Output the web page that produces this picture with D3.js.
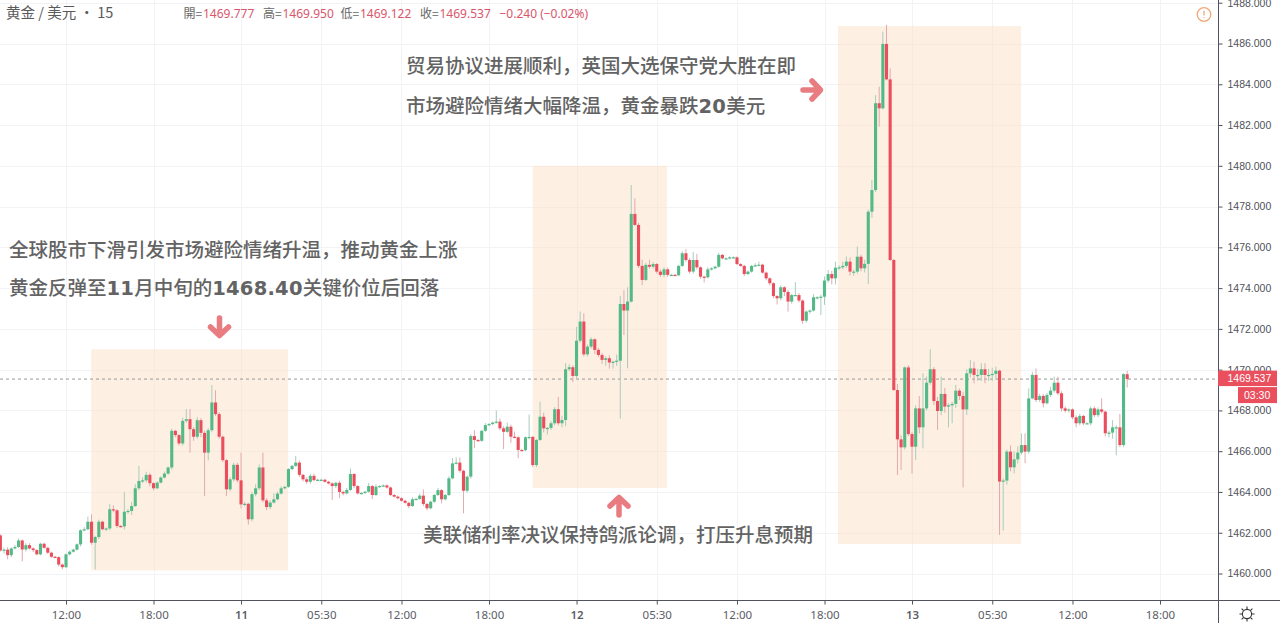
<!DOCTYPE html>
<html lang="zh">
<head>
<meta charset="utf-8">
<title>黄金 / 美元 15</title>
<script src="https://cdn.jsdelivr.net/npm/d3@7"></script>
<style>
html,body{margin:0;padding:0;background:#fff;overflow:hidden}
svg{display:block}
text{font-family:"Noto Sans CJK SC","Noto Sans",sans-serif}
</style>
</head>
<body>
<svg id="chart" width="1280" height="623"></svg>
<script>
// first bar index of the series (0 = the first 12:00 tick)
const firstBar = -18;

const opens = [
1461.87,1461.13,1461.17,1460.90,1461.23,1461.30,1461.62,1461.18,1461.39,1461.23,
1461.15,1460.94,1461.46,1461.26,1461.02,1460.82,1460.80,1460.44,1460.31,1460.94,
1461.07,1461.17,1461.43,1462.12,1462.17,1462.54,1461.51,1461.79,1462.54,1462.17,
1462.21,1463.15,1463.10,1462.33,1462.31,1463.03,1463.07,1463.31,1464.18,1464.54,
1464.57,1464.84,1464.43,1464.18,1464.46,1464.71,1464.90,1465.20,1467.00,1466.79,
1466.38,1467.49,1467.57,1467.08,1466.71,1467.52,1466.90,1465.93,1467.03,1468.39,
1467.82,1466.71,1465.56,1464.13,1464.62,1465.33,1464.57,1463.39,1463.42,1462.66,
1463.89,1464.18,1465.20,1463.59,1463.26,1463.48,1463.64,1463.92,1464.18,1464.25,
1465.12,1465.28,1465.44,1464.84,1464.62,1464.50,1464.79,1464.58,1464.60,1464.60,
1464.50,1464.42,1464.29,1464.45,1464.00,1463.93,1464.10,1464.88,1464.29,1463.93,
1463.95,1464.01,1464.29,1463.85,1464.26,1464.29,1464.32,1464.22,1463.85,1463.77,
1463.69,1463.57,1463.47,1463.31,1463.64,1463.66,1463.82,1463.41,1463.20,1463.52,
1463.85,1464.09,1463.64,1463.85,1464.67,1465.40,1465.44,1465.04,1464.06,1464.75,
1466.74,1466.55,1466.51,1467.00,1467.28,1467.33,1467.40,1467.45,1467.12,1466.95,
1467.20,1466.71,1466.68,1466.06,1466.05,1466.68,1466.70,1465.32,1466.55,1467.69,
1467.12,1467.14,1467.37,1468.06,1467.37,1467.53,1470.02,1470.12,1469.69,1471.42,
1472.36,1470.75,1471.13,1471.49,1470.97,1470.72,1470.48,1470.56,1470.35,1470.39,
1470.44,1473.22,1472.90,1473.34,1477.64,1477.10,1475.09,1474.40,1475.14,1475.05,
1475.18,1474.81,1474.65,1474.92,1474.65,1474.65,1474.63,1475.09,1475.71,1475.38,
1474.81,1475.38,1475.02,1474.56,1474.53,1474.92,1474.97,1475.05,1475.63,1475.46,
1475.46,1475.51,1475.51,1475.18,1475.09,1474.69,1474.81,1475.09,1475.12,1475.15,
1474.76,1474.48,1474.24,1473.61,1473.50,1474.04,1473.81,1473.34,1473.66,1473.66,
1473.39,1472.40,1472.85,1472.90,1473.55,1473.55,1473.58,1474.37,1474.69,1474.48,
1475.00,1475.02,1475.09,1475.30,1474.81,1474.81,1475.54,1474.97,1475.19,1477.75,
1478.81,1483.07,1482.82,1485.98,1484.24,1475.38,1469.00,1466.58,1466.19,1470.11,
1466.84,1466.22,1468.10,1467.17,1468.10,1469.36,1470.02,1468.46,1467.97,1468.81,
1468.19,1468.25,1468.32,1468.97,1468.71,1468.05,1469.82,1470.06,1469.74,1469.74,
1470.02,1469.74,1469.74,1469.79,1469.95,1464.51,1464.56,1465.98,1465.21,1465.60,
1465.93,1466.30,1465.98,1468.59,1469.74,1468.51,1468.71,1468.35,1468.76,1468.97,
1469.36,1468.84,1468.10,1467.99,1468.05,1467.66,1467.37,1467.73,1467.37,1467.37,
1468.10,1467.77,1468.05,1467.94,1466.88,1466.91,1467.17,1467.17,1466.30,1469.777];

const closes = [
1461.13,1461.17,1460.90,1461.23,1461.30,1461.62,1461.18,1461.39,1461.23,1461.15,
1460.94,1461.46,1461.26,1461.02,1460.82,1460.80,1460.44,1460.31,1460.94,1461.07,
1461.17,1461.43,1462.12,1462.17,1462.54,1461.51,1461.79,1462.54,1462.17,1462.21,
1463.15,1463.10,1462.33,1462.31,1463.03,1463.07,1463.31,1464.18,1464.54,1464.57,
1464.84,1464.43,1464.18,1464.46,1464.71,1464.90,1465.20,1467.00,1466.79,1466.38,
1467.49,1467.57,1467.08,1466.71,1467.52,1466.90,1465.93,1467.03,1468.39,1467.82,
1466.71,1465.56,1464.13,1464.62,1465.33,1464.57,1463.39,1463.42,1462.66,1463.89,
1464.18,1465.20,1463.59,1463.26,1463.48,1463.64,1463.92,1464.18,1464.25,1465.12,
1465.28,1465.44,1464.84,1464.62,1464.50,1464.79,1464.58,1464.60,1464.60,1464.50,
1464.42,1464.29,1464.45,1464.00,1463.93,1464.10,1464.88,1464.29,1463.93,1463.95,
1464.01,1464.29,1463.85,1464.26,1464.29,1464.32,1464.22,1463.85,1463.77,1463.69,
1463.57,1463.47,1463.31,1463.64,1463.66,1463.82,1463.41,1463.20,1463.52,1463.85,
1464.09,1463.64,1463.85,1464.67,1465.40,1465.44,1465.04,1464.06,1464.75,1466.74,
1466.55,1466.51,1467.00,1467.28,1467.33,1467.40,1467.45,1467.12,1466.95,1467.20,
1466.71,1466.68,1466.06,1466.05,1466.68,1466.70,1465.32,1466.55,1467.69,1467.12,
1467.14,1467.37,1468.06,1467.37,1467.53,1470.02,1470.12,1469.69,1471.42,1472.36,
1470.75,1471.13,1471.49,1470.97,1470.72,1470.48,1470.56,1470.35,1470.39,1470.44,
1473.22,1472.90,1473.34,1477.64,1477.10,1475.09,1474.40,1475.14,1475.05,1475.18,
1474.81,1474.65,1474.92,1474.65,1474.65,1474.63,1475.09,1475.71,1475.38,1474.81,
1475.38,1475.02,1474.56,1474.53,1474.92,1474.97,1475.05,1475.63,1475.46,1475.46,
1475.51,1475.51,1475.18,1475.09,1474.69,1474.81,1475.09,1475.12,1475.15,1474.76,
1474.48,1474.24,1473.61,1473.50,1474.04,1473.81,1473.34,1473.66,1473.66,1473.39,
1472.40,1472.85,1472.90,1473.55,1473.55,1473.58,1474.37,1474.69,1474.48,1475.00,
1475.02,1475.09,1475.30,1474.81,1474.81,1475.54,1474.97,1475.19,1477.75,1478.81,
1483.07,1482.82,1485.98,1484.24,1475.38,1469.00,1466.58,1466.19,1470.11,1466.84,
1466.22,1468.10,1467.17,1468.10,1469.36,1470.02,1468.46,1467.97,1468.81,1468.19,
1468.25,1468.32,1468.97,1468.71,1468.05,1469.82,1470.06,1469.74,1469.74,1470.02,
1469.74,1469.74,1469.79,1469.95,1464.51,1464.56,1465.98,1465.21,1465.60,1465.93,
1466.30,1465.98,1468.59,1469.74,1468.51,1468.71,1468.35,1468.76,1468.97,1469.36,
1468.84,1468.10,1467.99,1468.05,1467.66,1467.37,1467.73,1467.37,1467.37,1468.10,
1467.77,1468.05,1467.94,1466.88,1466.91,1467.17,1467.17,1466.30,1469.78,1469.537];

// wick lengths above the body top
const upperWicks = [
.05,.1,.12,.05,.1,.1,.05,.1,.1,.05,
.05,.05,.05,.05,.05,.05,.05,.05,.05,.05,
.05,.05,.05,.1,.25,.36,.05,.1,.05,.05,
.25,.2,.05,.05,.97,.1,.2,.2,.74,.15,
.15,.1,.05,.05,.05,.1,.05,.1,.05,.05,
.15,.5,.5,.1,.15,.1,.1,.1,.85,.6,
.1,.05,.05,.1,.1,.1,1.36,.1,.05,.1,
.2,.15,.73,.1,.1,.3,.1,.1,.05,.05,
.05,.33,.1,.05,.1,.1,.1,.05,.05,.05,
.05,.05,.05,.1,.05,.1,.27,.05,.05,.05,
.05,.15,.05,.1,.05,.05,.05,.05,.05,.05,
.05,.05,.05,.1,.05,.1,.3,.05,.05,.05,
.1,.05,.05,.1,.26,.26,.25,.05,.05,.1,
.3,.05,.05,.1,.05,.05,.55,.15,.1,.2,
.1,.25,.05,.05,.05,1.1,.05,.05,.74,.2,
.05,.1,.1,.6,.2,.3,.15,.1,.68,.49,
.4,.1,.1,.05,.1,.1,.1,.15,.05,.3,
.4,.68,.7,1.42,.76,.1,.3,.1,.25,.1,
.05,.1,.1,.1,.05,.05,.05,.1,.2,.1,
.4,.3,.05,.05,.1,.05,.05,.1,.05,.05,
.05,.05,.05,.05,.05,.05,.05,.1,.15,.05,
.05,.05,.05,.05,.1,.05,.1,.05,.64,.1,
.05,.05,.05,.15,.05,.1,.2,.2,.15,.3,
.1,.2,.25,.2,.1,.5,.1,.2,.1,.5,
.4,.81,.6,.93,.54,.05,.3,.2,.05,.1,
.1,.15,.6,1.72,.3,.98,.1,.2,.85,.3,
.1,.1,.28,.1,.2,.2,.41,.33,.3,.3,
.3,.3,.3,.2,.05,.1,.1,.3,.4,.3,
.57,.57,.49,.15,.32,.1,.1,.1,.2,.3,
.3,.1,.1,.05,.05,.1,.1,.05,.05,.1,
.1,.1,.54,.05,.1,.35,.1,.66,.05,.173];

// wick lengths below the body bottom
const lowerWicks = [
.05,.15,.2,.1,.05,.05,.58,.1,.05,.1,
.05,.05,.05,.05,.05,.05,.1,.1,.05,.05,
.05,.05,.1,.05,.05,.1,1.31,.1,.05,.1,
.1,.1,.1,.05,.15,.1,.2,.05,.1,.1,
.1,.15,.1,.05,.05,.05,.05,.1,.1,.1,
.1,.1,1.15,.2,.1,.2,2.13,.38,.1,.1,
.1,.1,.33,.1,.1,.1,.2,.1,.26,.1,
.1,.1,.1,.15,.1,.05,.05,.05,.05,.05,
.05,.05,.1,.1,.1,.1,.05,.05,.05,.05,
.05,.69,.1,.3,.1,.05,.05,.1,.05,.05,
.05,.05,.2,.05,.05,.05,.05,.05,.05,.05,
.05,.05,.1,.05,.05,.05,.1,.1,.05,.05,
.05,.2,.05,.05,.05,.05,.1,1.11,.1,.1,
.4,.05,.05,.05,.05,.05,.05,.1,.85,.05,
.3,.05,.41,.05,.05,.1,.1,.1,.05,.2,
.3,.1,.1,.1,.2,.3,.1,.3,.1,.1,
.1,.1,.1,.2,.1,.2,.3,.3,.3,.2,
2.84,1.2,2.83,.05,.05,.1,.25,.05,.1,.1,
.1,.1,.1,.1,.05,.05,.05,.05,.1,.1,
.1,.1,.1,.25,.05,.05,.05,.05,.05,.05,
.05,.05,.05,.05,.1,.05,.05,.05,.05,.05,
.1,.1,.1,.3,.1,.2,.49,.1,.05,.1,
.15,.1,.1,.05,.1,.87,.4,.1,.3,.3,
.1,.1,.1,.2,.2,.1,.15,.2,.99,.3,
.1,.9,.05,.05,.05,.05,1.75,1.11,.1,.1,
1.32,.65,.3,1.03,.1,.1,.2,.93,.2,.3,
1.02,.88,.2,.2,3.83,.27,.2,.41,.3,.3,
.4,.3,.3,.3,2.62,2.4,.2,.2,.3,.2,
.1,.57,.1,.05,.1,.1,.2,.05,.1,.1,
.1,.15,.1,.1,.1,.2,.1,.1,.05,.1,
.1,.1,.1,.15,.2,.3,1.37,.1,.1,.415];

const priceTicks = [1460,1462,1464,1466,1468,1470,1472,1474,1476,1478,1480,1482,1484,1486,1488];
const timeTickBars = [0,24,48,70,92,116,140,162,184,208,232,254,276,300];
const timeTickLabels = ["12:00","18:00","11","05:30","12:00","18:00","12","05:30","12:00","18:00","13","05:30","12:00","18:00"];
const dateLabels = ["11","12","13"];

const lastPrice = 1469.537;
const countdown = "03:30";

// highlighted zones in chart units
const zoneFirstBars = [6.9, 128, 211.7];
const zoneLastBars  = [60.9, 164.8, 261.9];
const zoneTops      = [1471.0, 1480.0, 1486.85];
const zoneBottoms   = [1460.15, 1464.2, 1461.45];

const legendTitle = ["黄金 / 美元 · 15"];
const ohlcKeys = ["開=","高=","低=","收="];
const ohlcValues = ["1469.777","1469.950","1469.122","1469.537"];
const changeText = "−0.240 (−0.02%)";

const annotations = [
  {x:9,   y:257, parts:["全球股市下滑引发市场避险情绪升温","，","推动黄金上涨"]},
  {x:9,   y:295, parts:["黄金反弹至","11","月中旬的","1468.40","关键价位后回落"]},
  {x:406, y:73,  parts:["贸易协议进展顺利","，","英国大选保守党大胜在即"]},
  {x:406, y:113, parts:["市场避险情绪大幅降温","，","黄金暴跌","20","美元"]},
  {x:423, y:542, parts:["美联储利率决议保持鸽派论调","，","打压升息预期"]}
];

const GREEN = "#53b987", RED = "#eb4d5c", GREEN_W = "#a9cdbb", RED_W = "#e3a9af";
const AXIS = "#50535e", LABEL = "#4f5159", GRID = "#f1f3f6";

const svg = d3.select("#chart");
const plotRight = 1218, plotBottom = 600;

const x = d3.scaleLinear().domain([0, 300]).range([66, 1160]);
const y = d3.scaleLinear().domain([1460, 1486]).range([573.5, 43.5]);

const bars = closes.map((c, i) => {
  const o = opens[i];
  return {bar: firstBar + i, o, c, h: Math.max(o, c) + upperWicks[i], l: Math.min(o, c) - lowerWicks[i]};
});

svg.append("defs").append("clipPath").attr("id", "plot")
  .append("rect").attr("width", plotRight).attr("height", plotBottom);

const plot = svg.append("g").attr("clip-path", "url(#plot)");

// grid
plot.append("g").selectAll("line").data(priceTicks).join("line")
  .attr("x1", 0).attr("x2", plotRight)
  .attr("y1", d => Math.round(y(d)) + .5).attr("y2", d => Math.round(y(d)) + .5)
  .attr("stroke", GRID);
plot.append("g").selectAll("line").data(timeTickBars).join("line")
  .attr("x1", d => Math.round(x(d)) + .5).attr("x2", d => Math.round(x(d)) + .5)
  .attr("y1", 0).attr("y2", plotBottom)
  .attr("stroke", GRID);

// zones (translucent, the grid stays faintly visible)
plot.append("g").selectAll("rect").data(zoneFirstBars).join("rect")
  .attr("x", d => x(d))
  .attr("width", (d, i) => x(zoneLastBars[i]) - x(d))
  .attr("y", (d, i) => y(zoneTops[i]))
  .attr("height", (d, i) => y(zoneBottoms[i]) - y(zoneTops[i]))
  .attr("fill", "#fbe3cc").attr("fill-opacity", .58);

// last price line
plot.append("line")
  .attr("x1", 0).attr("x2", plotRight)
  .attr("y1", y(lastPrice)).attr("y2", y(lastPrice))
  .attr("stroke", "#9a9a9a").attr("stroke-dasharray", "3 3");

// candles
const candle = plot.append("g").selectAll("g").data(bars).join("g");
candle.append("line")
  .attr("x1", d => x(d.bar)).attr("x2", d => x(d.bar))
  .attr("y1", d => y(d.h)).attr("y2", d => y(d.l))
  .attr("stroke", d => d.c >= d.o ? GREEN_W : RED_W).attr("stroke-width", 1);
candle.append("rect")
  .attr("x", d => x(d.bar) - 1.55).attr("width", 3.1)
  .attr("y", d => y(Math.max(d.o, d.c)))
  .attr("height", d => Math.max(1.2, Math.abs(y(d.o) - y(d.c))))
  .attr("fill", d => d.c >= d.o ? GREEN : RED);

// annotations
const isLatin = d => /^[0-9.]+$/.test(d);
const note = svg.append("g").selectAll("text").data(annotations).join("text")
  .attr("x", d => d.x).attr("y", d => d.y)
  .attr("fill", "#636363").attr("font-size", 19.5).attr("font-weight", 500);
note.selectAll("tspan").data(d => d.parts).join("tspan")
  .text(d => d)
  .style("font-family", d => isLatin(d) ? '"DejaVu Sans"' : d === "，" ? '"Noto Sans CJK TC"' : '"Noto Sans CJK SC"')
  .style("letter-spacing", d => isLatin(d) ? "0.25px" : null)
  .attr("font-size", 19.5)
  .attr("font-weight", d => isLatin(d) ? 700 : 500);

// arrows
const arrowCx = [219.5, 812, 619];
const arrowCy = [327, 90, 506];
const arrowRot = [0, -90, 180];
svg.append("g").selectAll("path").data(arrowCx).join("path")
  .attr("transform", (d, i) => `translate(${d},${arrowCy[i]}) rotate(${arrowRot[i]})`)
  .attr("d", "M0,-9 L0,8 M-9,0 L0,8.5 L9,0")
  .attr("fill", "none").attr("stroke", "#e87c80").attr("stroke-width", 5.5)
  .attr("stroke-linecap", "round").attr("stroke-linejoin", "round");

// header
svg.append("text").attr("x", 6).attr("y", 18).attr("fill", "#5a5a5a")
  .attr("font-size", 14.5).text(legendTitle[0]);
const keyX = [183.5, 263, 340.5, 420], valX = [203, 282.5, 360, 439.5];
svg.append("g").selectAll("text").data(ohlcKeys).join("text")
  .attr("x", (d, i) => keyX[i]).attr("y", 18).attr("font-size", 12).attr("fill", "#666").text(d => d);
svg.append("g").selectAll("text").data(ohlcValues).join("text")
  .attr("x", (d, i) => valX[i]).attr("y", 18).attr("font-size", 12).attr("fill", "#d9566b")
  .style("font-family", '"Noto Sans"').text(d => d);
svg.append("text").attr("x", 499.5).attr("y", 18).attr("font-size", 12).attr("fill", "#d9566b")
  .style("font-family", '"Noto Sans"').text(changeText);

// alert icon
const alert = svg.append("g").attr("transform", "translate(1204,14.5)");
alert.append("circle").attr("r", 6.8).attr("fill", "#fff").attr("stroke", "#f0a878").attr("stroke-width", 1.3);
alert.append("path").attr("d", "M0,-3.8 L0,1 M0,2.8 L0,3.8").attr("stroke", "#f0a878").attr("stroke-width", 1.3);

// price axis
const yAxis = d3.axisRight(y).tickValues(priceTicks).tickFormat(d3.format(".3f")).tickSize(4).tickPadding(5);
const gy = svg.append("g").attr("transform", `translate(${plotRight + .5},0)`).call(yAxis);
gy.select(".domain").remove();
gy.selectAll("line").attr("stroke", AXIS);
gy.selectAll("text").attr("fill", LABEL).attr("font-size", 10.5).style("font-family", '"Liberation Sans"');
svg.append("line").attr("x1", plotRight + .5).attr("x2", plotRight + .5).attr("y1", 0).attr("y2", 623).attr("stroke", AXIS);

// time axis
const xAxis = d3.axisBottom(x).tickValues(timeTickBars)
  .tickFormat((d, i) => timeTickLabels[i]).tickSize(4).tickPadding(6);
const gx = svg.append("g").attr("transform", `translate(0,${plotBottom + .5})`).call(xAxis);
gx.select(".domain").remove();
gx.selectAll("line").attr("stroke", AXIS);
gx.selectAll("text").attr("fill", "#5b5d65").attr("font-size", 11.5)
  .attr("font-weight", d => dateLabels.includes(timeTickLabels[timeTickBars.indexOf(d)]) ? 600 : 400)
  .style("font-family", '"Noto Sans"');
svg.append("line").attr("x1", 0).attr("x2", 1280).attr("y1", plotBottom + .5).attr("y2", plotBottom + .5).attr("stroke", AXIS);

// last price tags
const tag = svg.append("g");
tag.append("rect").attr("x", plotRight).attr("y", y(lastPrice) - 8.5).attr("width", 59).attr("height", 15.5).attr("fill", "#ea4f5e");
tag.append("text").attr("x", 1227.5).attr("y", y(lastPrice) + 3.2).attr("font-size", 10.5).attr("fill", "#fff")
  .style("font-family", '"Liberation Sans"').text(d3.format(".3f")(lastPrice));
tag.append("rect").attr("x", 1238).attr("y", y(lastPrice) + 8).attr("width", 39).attr("height", 16).attr("fill", "#ea4f5e");
tag.append("text").attr("x", 1244).attr("y", y(lastPrice) + 20).attr("font-size", 10.5).attr("fill", "#fff")
  .style("font-family", '"Liberation Sans"').text(countdown);

// theme (sun) icon
const sun = svg.append("g").attr("transform", "translate(1247,614)");
sun.append("circle").attr("r", 4.6).attr("fill", "none").attr("stroke", "#333").attr("stroke-width", 1.1);
sun.append("path")
  .attr("d", "M0,-5 V-7.5 M0,5 V7.5 M-5,0 H-7.5 M5,0 H7.5 M-3.6,-3.6 L-5.4,-5.4 M3.6,-3.6 L5.4,-5.4 M-3.6,3.6 L-5.4,5.4 M3.6,3.6 L5.4,5.4")
  .attr("stroke", "#333").attr("stroke-width", 1.1);
</script>
</body>
</html>
